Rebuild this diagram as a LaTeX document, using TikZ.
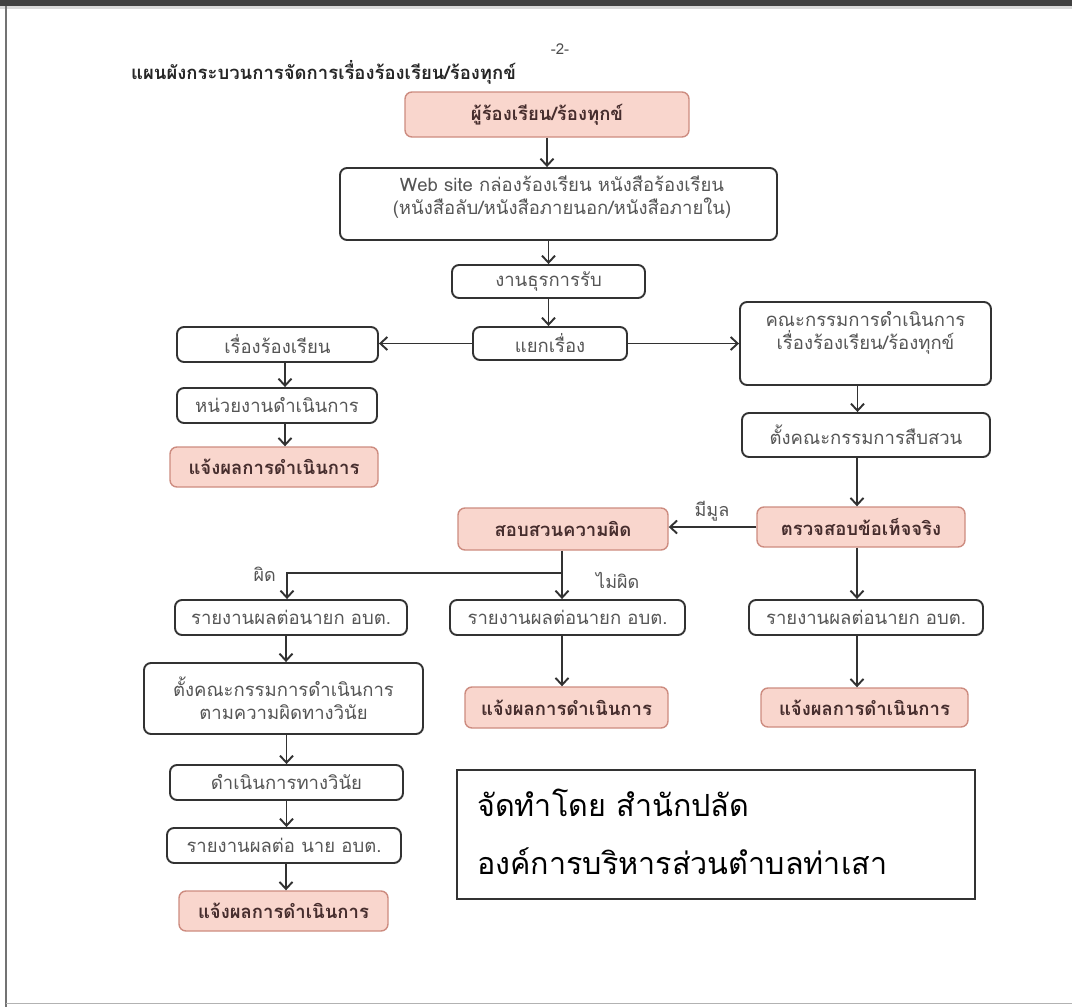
\documentclass[tikz,border=0pt]{standalone}
\usepackage{fontspec}
\newfontfamily\thai[Script=Thai]{Loma}
\usetikzlibrary{arrows.meta}
\definecolor{pinkfill}{RGB}{249,214,205}
\definecolor{pinkdraw}{RGB}{205,140,128}
\definecolor{linec}{RGB}{50,50,50}
\definecolor{txtc}{RGB}{85,85,85}
\definecolor{ptxt}{RGB}{70,45,45}
\begin{document}
\begin{tikzpicture}[x=1pt,y=-1pt,
  box/.style={draw=linec, line width=1.9pt, rounded corners=7pt, fill=white,
    font=\thai\fontsize{18.5}{23}\selectfont, text=txtc, align=center, inner sep=0pt},
  pbox/.style={box, draw=pinkdraw, line width=1.4pt, fill=pinkfill,
    font=\thai\bfseries\fontsize{18.5}{23}\selectfont, text=ptxt},
  txt/.style={font=\thai\fontsize{18.5}{23}\selectfont, text=txtc, align=center, inner sep=0pt},
  lbl/.style={font=\thai\fontsize{18}{20}\selectfont, text=txtc, inner sep=0pt},
  arr/.style={draw=linec, line width=1.9pt, -{Straight Barb[length=7pt,width=13pt,line width=1.9pt]}},
  plain/.style={draw=linec, line width=1.9pt}]
\useasboundingbox (0,0) rectangle (1072,1007);
% page frame
\fill[white] (0,0) rectangle (1072,1007);
\fill[black!75] (0,0) rectangle (1072,6);
\fill[black!15] (0,6) rectangle (1072,9);
\draw[black!55, line width=1.5pt] (6,6) -- (6,1007);
\draw[black!30, line width=1pt] (6,1003) -- (1072,1003);

% header
\node[lbl, text=black!70, font=\thai\fontsize{15}{16}\selectfont] (pg) at (560,49) {-2-};
\node[lbl, text=black!85, anchor=west, font=\thai\bfseries\fontsize{18.5}{20}\selectfont] (title) at (131,72) {แผนผังกระบวนการจัดการเรื่องร้องเรียน/ร้องทุกข์};

% boxes
\node[pbox, minimum width=284, minimum height=45] (A) at (547,114.5) {ผู้ร้องเรียน/ร้องทุกข์};
\node[box, minimum width=437, minimum height=72] (B) at (558.5,204) {};
\node[txt] (Bt) at (562,197) {Web site กล่องร้องเรียน หนังสือร้องเรียน\\(หนังสือลับ/หนังสือภายนอก/หนังสือภายใน)};
\node[box, minimum width=193, minimum height=33] (C) at (548.5,281.5) {งานธุรการรับ};
\node[box, minimum width=154, minimum height=33] (D) at (550,343.5) {แยกเรื่อง};
\node[box, minimum width=201, minimum height=35] (E) at (277.5,344.5) {เรื่องร้องเรียน};
\node[box, minimum width=251, minimum height=83] (F) at (865.5,343.5) {};
\node[txt] (Ft) at (865.5,333) {คณะกรรมการดำเนินการ\\เรื่องร้องเรียน/ร้องทุกข์};
\node[box, minimum width=200, minimum height=35] (G) at (277,405.5) {หน่วยงานดำเนินการ};
\node[pbox, minimum width=208, minimum height=40] (H) at (274,467) {แจ้งผลการดำเนินการ};
\node[box, minimum width=248, minimum height=44] (I) at (866,435) {ตั้งคณะกรรมการสืบสวน};
\node[pbox, minimum width=208, minimum height=40] (J) at (861,527) {ตรวจสอบข้อเท็จจริง};
\node[pbox, minimum width=210, minimum height=42] (K) at (563,529) {สอบสวนความผิด};
\node[box, minimum width=235, minimum height=35] (L) at (567.5,617.5) {รายงานผลต่อนายก อบต.};
\node[box, minimum width=232, minimum height=35] (M) at (291,617.5) {รายงานผลต่อนายก อบต.};
\node[box, minimum width=234, minimum height=35] (N) at (866,617.5) {รายงานผลต่อนายก อบต.};
\node[pbox, minimum width=203, minimum height=41] (O) at (566.5,707.5) {แจ้งผลการดำเนินการ};
\node[pbox, minimum width=207, minimum height=39] (P) at (864.5,707.5) {แจ้งผลการดำเนินการ};
\node[box, minimum width=279, minimum height=71] (Q) at (283.5,698.5) {ตั้งคณะกรรมการดำเนินการ\\ตามความผิดทางวินัย};
\node[box, minimum width=233, minimum height=35] (R) at (286.5,782.5) {ดำเนินการทางวินัย};
\node[box, minimum width=234, minimum height=35] (S) at (284,845.5) {รายงานผลต่อ นาย อบต.};
\node[pbox, minimum width=209, minimum height=40] (T) at (283.5,911) {แจ้งผลการดำเนินการ};

% credit box
\node[draw=black!80, line width=1.2pt, minimum width=518, minimum height=129, inner sep=0pt] (U) at (716,834.5) {};
\node[anchor=west, align=left, inner sep=0pt, text=black, font=\thai\fontsize{30.5}{58}\selectfont] (Ut) at (477,832) {จัดทำโดย สำนักปลัด\\องค์การบริหารส่วนตำบลท่าเสา};

% connectors
\draw[arr] (A.south) -- (A.south |- B.north);
\draw[arr] (C.north |- B.south) -- (C.north);
\draw[arr] (C.south) -- (C.south |- D.north);
\draw[arr] (D.west) -- (D.west -| E.east);
\draw[arr] (D.east) -- (D.east -| F.west);
\draw[arr] ([xshift=7.5pt]E.south) -- ([xshift=7.5pt]E.south |- G.north);
\draw[arr] ([xshift=8pt]G.south) -- ([xshift=8pt]G.south |- H.north);
\draw[arr] ([xshift=-8pt]F.south) -- ([xshift=-8pt]F.south |- I.north);
\draw[arr] ([xshift=-9pt]I.south) -- ([xshift=-9pt]I.south |- J.north);
\draw[arr] (J.west) -- (J.west -| K.east);
\node[lbl, anchor=south] (mimun) at (712,521) {มีมูล};
\draw[arr] ([xshift=-1pt]K.south) -- ([xshift=-1pt]K.south |- L.north);
\coordinate (br) at ([xshift=-1pt]K.south |- 0,573);
\draw[arr] (br) -| ([xshift=-4pt]M.north);
\node[lbl, anchor=east] (phit) at (276,574) {ผิด};
\node[lbl, anchor=west] (maiphit) at (596,580) {ไม่ผิด};
\draw[arr] ([xshift=-5.5pt]L.south) -- ([xshift=-5.5pt]L.south |- O.north);
\draw[arr] ([xshift=-4pt]J.south) -- ([xshift=-4pt]J.south |- N.north);
\draw[arr] ([xshift=-9pt]N.south) -- ([xshift=-9pt]N.south |- P.north);
\draw[arr] ([xshift=-5pt]M.south) -- ([xshift=-5pt]M.south |- Q.north);
\draw[arr] (R.north |- Q.south) -- (R.north);
\draw[arr] (R.south) -- (R.south |- S.north);
\draw[arr] ([xshift=2pt]S.south) -- ([xshift=2pt]S.south |- T.north);
\end{tikzpicture}
\end{document}
